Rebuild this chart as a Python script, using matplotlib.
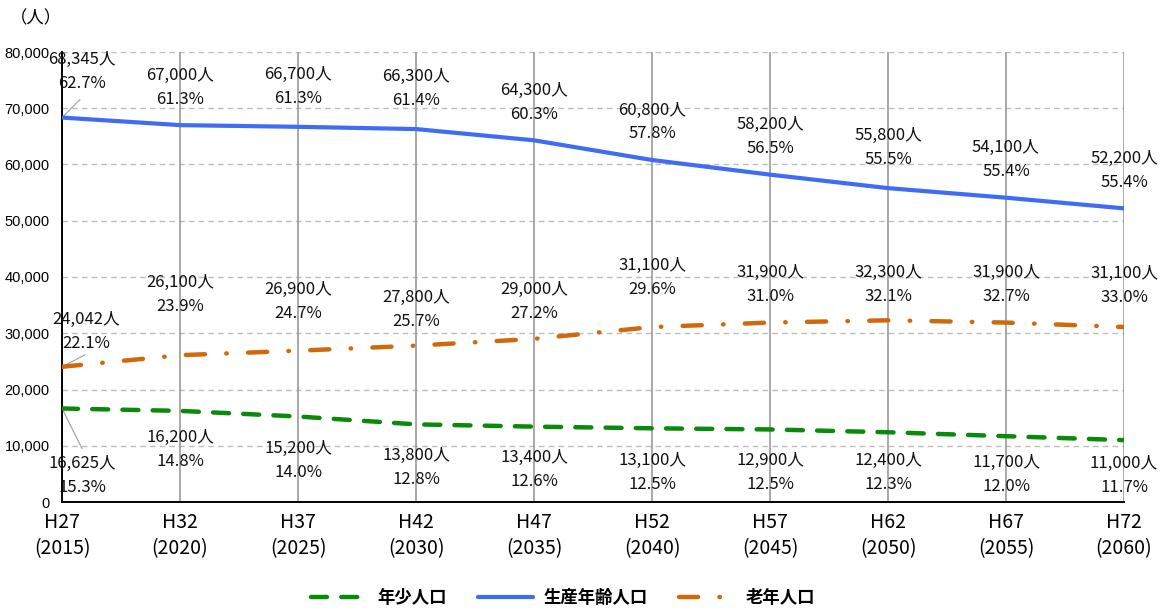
import matplotlib
matplotlib.use("Agg")
import matplotlib.pyplot as plt
from matplotlib.lines import Line2D

plt.rcParams["font.family"] = ["Noto Sans CJK JP", "DejaVu Sans"]

# ── data ─────────────────────────────────────────────────────────────────────
periods = ["H27", "H32", "H37", "H42", "H47", "H52", "H57", "H62", "H67", "H72"]
years = ["2015", "2020", "2025", "2030", "2035", "2040", "2045", "2050", "2055", "2060"]

young = [16625, 16200, 15200, 13800, 13400, 13100, 12900, 12400, 11700, 11000]
working = [68345, 67000, 66700, 66300, 64300, 60800, 58200, 55800, 54100, 52200]
elderly = [24042, 26100, 26900, 27800, 29000, 31100, 31900, 32300, 31900, 31100]

young_pct = [15.3, 14.8, 14.0, 12.8, 12.6, 12.5, 12.5, 12.3, 12.0, 11.7]
working_pct = [62.7, 61.3, 61.3, 61.4, 60.3, 57.8, 56.5, 55.5, 55.4, 55.4]
elderly_pct = [22.1, 23.9, 24.7, 25.7, 27.2, 29.6, 31.0, 32.1, 32.7, 33.0]

# label offsets in pixels (number line centre relative to the point)
working_dy = [58, 50, 52, 53, 50, 50, 50, 53, 50, 50]
elderly_dy = [47, 73, 61, 48, 49, 62, 50, 48, 50, 54]
young_dy = [-55, -27, -32, -31, -31, -32, -31, -28, -26, -23]
first_dx = {"working": 20, "elderly": 24, "young": 20}

GREEN = "#0A8A0A"
BLUE = "#3F6BF5"
ORANGE = "#D0690C"
GRID = "#BDBDBD"
GREEN_DASH = (0, (3.6, 3.2))
ORANGE_DASH = (0, (4.3, 4.8, 0.1, 4.8))

fig = plt.figure(figsize=(11.68, 6.10), dpi=100)
ax = fig.add_axes([62 / 1168, 108 / 610, (1124 - 62) / 1168, 450 / 610])

x = list(range(len(periods)))

ax.plot(x, working, color=BLUE, lw=3.0, solid_capstyle="round", zorder=3)
ax.plot(x, young, color=GREEN, lw=3.2, linestyle=GREEN_DASH,
        dash_capstyle="round", zorder=3)
ax.plot(x, elderly, color=ORANGE, lw=3.2, linestyle=ORANGE_DASH,
        dash_capstyle="round", zorder=3)

ax.set_xlim(0, 9)
ax.set_ylim(0, 80000)
ax.set_yticks(range(0, 80001, 10000))
ax.set_yticklabels([f"{v:,}" for v in range(0, 80001, 10000)],
                   family="Liberation Sans", fontsize=10.5)
ax.set_xticks(x)
ax.set_xticklabels([f"{p}\n({y})" for p, y in zip(periods, years)],
                   fontsize=14, linespacing=1.35)
ax.tick_params(axis="both", length=0, colors="black")
ax.tick_params(axis="y", pad=9)
ax.tick_params(axis="x", pad=7)

for v in range(10000, 80001, 10000):
    ax.axhline(v, color=GRID, lw=1.0, ls=(0, (4, 3)), zorder=1)
for xi in x[1:]:
    ax.axvline(xi, color="#9A9A9A", lw=1.2, zorder=1)

for side in ("top", "right"):
    ax.spines[side].set_visible(False)
ax.spines["left"].set_color("black")
ax.spines["left"].set_linewidth(1.4)
ax.spines["bottom"].set_color("black")
ax.spines["bottom"].set_linewidth(1.4)


def label_series(vals, pcts, dys, dx0):
    for i, (v, p, dy) in enumerate(zip(vals, pcts, dys)):
        dx = dx0 if i == 0 else 0
        ax.annotate(f"{v:,}人", xy=(i, v), xytext=(dx, dy),
                    textcoords="offset pixels", ha="center", va="center",
                    fontsize=12, color="#111111", zorder=4)
        ax.annotate(f"{p:.1f}%", xy=(i, v), xytext=(dx, dy - 24),
                    textcoords="offset pixels", ha="center", va="center",
                    fontsize=12, color="#111111", zorder=4)


label_series(working, working_pct, working_dy, first_dx["working"])
label_series(elderly, elderly_pct, elderly_dy, first_dx["elderly"])
label_series(young, young_pct, young_dy, first_dx["young"])

# leader lines for the first labels
for v, end in [(working[0], (18, 18)), (elderly[0], (23, 12)), (young[0], (20, -40))]:
    ax.annotate("", xy=(0, v), xytext=end, textcoords="offset pixels",
                arrowprops=dict(arrowstyle="-", color="#A6A6A6", lw=0.9,
                                shrinkA=0, shrinkB=0), zorder=2)

fig.text(10 / 1168, 1 - 18 / 610, "（人）", fontsize=12.5, va="center", ha="left")

handles = [
    Line2D([], [], color=GREEN, lw=3.2, linestyle=GREEN_DASH, dash_capstyle="round"),
    Line2D([], [], color=BLUE, lw=3.0, solid_capstyle="round"),
    Line2D([], [], color=ORANGE, lw=3.2, linestyle=ORANGE_DASH, dash_capstyle="round"),
]
leg = fig.legend(handles, ["年少人口", "生産年齢人口", "老年人口"],
                 loc="center", bbox_to_anchor=(563 / 1168, 1 - 598 / 610),
                 ncol=3, frameon=False, handlelength=3.2, columnspacing=1.8,
                 handletextpad=0.6, prop={"family": "Noto Sans CJK JP",
                                          "weight": "bold", "size": 12.5})

fig.savefig("out.png", dpi=100, facecolor="white")
